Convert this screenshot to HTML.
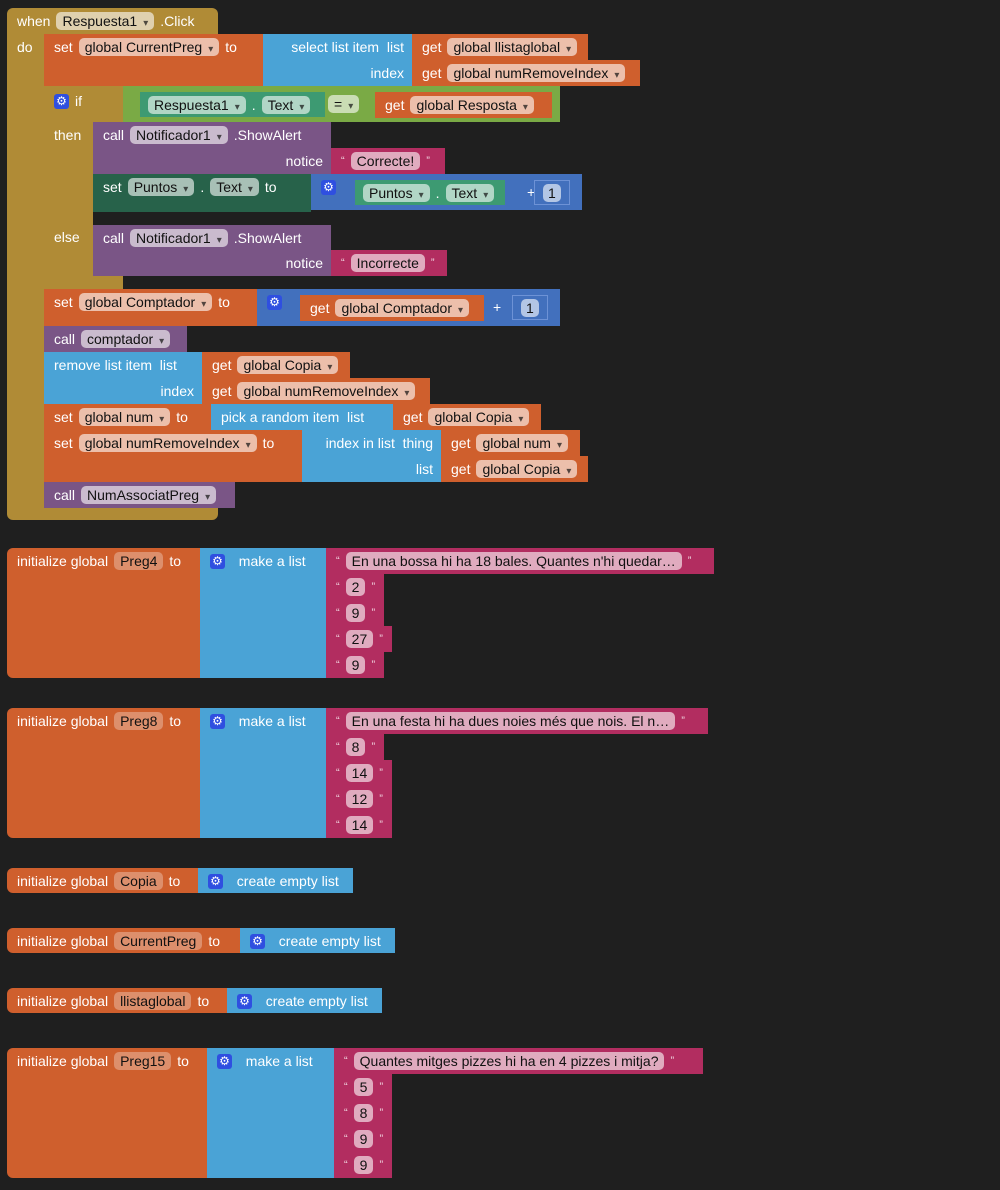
<!DOCTYPE html>
<html><head><meta charset="utf-8"><style>
body{margin:0;background:#1f1f1f;width:1000px;height:1190px;position:relative;overflow:hidden;font-family:"Liberation Sans",sans-serif;font-size:14px;color:#fff}
.b{position:absolute;box-sizing:border-box}
.r{position:absolute;left:0;right:0;height:26px;display:flex;align-items:center;gap:6px;padding-left:10px;white-space:nowrap}
.re{justify-content:flex-end;padding-right:8px;padding-left:0}
.p{background:rgba(255,255,255,.6);color:#111;border-radius:5px;padding:0 6px;height:18px;line-height:18px;display:inline-block}
.p i{font-style:normal;font-size:10px;margin-left:6px;opacity:.7}
.g{display:inline-block;width:15px;height:15px;background:#2f4fe0;border-radius:3px;color:#fff;font-size:12px;line-height:15px;text-align:center}
.q{font-size:11px;opacity:.8}
.gold{background:#b08b36}.or{background:#cf5f2d}.bl{background:#4aa3d6}.pu{background:#7a5586}.mg{background:#b22d60}
.gr{background:#7aaa45}.te{background:#3d9a72}.dg{background:#27624a}.mb{background:#4270bd}
.rd{border-radius:6px 6px 6px 6px}
</style></head><body>

<!-- event block -->
<div class="b gold" style="left:7px;top:8px;width:211px;height:512px;border-radius:6px">
 <div class="r" style="top:0">when <span class="p">Respuesta1<i>▾</i></span> .Click</div>
 <div class="r" style="top:26px">do</div>
</div>
<div class="b" style="left:44px;top:34px;width:174px;height:474px;background:#1f1f1f"></div>

<!-- set CurrentPreg -->
<div class="b or" style="left:44px;top:34px;width:219px;height:52px">
 <div class="r" style="top:0">set <span class="p">global CurrentPreg<i>▾</i></span> to</div></div>
<div class="b bl" style="left:263px;top:34px;width:149px;height:52px">
 <div class="r re" style="top:0">select list item &nbsp;list</div><div class="r re" style="top:26px">index</div></div>
<div class="b or" style="left:412px;top:34px;width:176px;height:26px">
 <div class="r" style="top:0">get <span class="p">global llistaglobal<i>▾</i></span></div></div>
<div class="b or" style="left:412px;top:60px;width:228px;height:26px">
 <div class="r" style="top:0">get <span class="p">global numRemoveIndex<i>▾</i></span></div></div>

<!-- if block -->
<div class="b gold" style="left:44px;top:86px;width:79px;height:204px">
 <div class="r" style="top:2px"><span class="g">⚙</span> if</div>
 <div class="r" style="top:36px">then</div>
 <div class="r" style="top:138px">else</div>
</div>
<div class="b" style="left:93px;top:122px;width:30px;height:154px;background:#1f1f1f"></div>
<div class="b gr" style="left:123px;top:86px;width:437px;height:36px"></div>
<div class="b te" style="left:140px;top:92px;width:185px;height:25px">
 <div class="r" style="top:0;padding-left:8px"><span class="p">Respuesta1<i>▾</i></span>.<span class="p">Text<i>▾</i></span></div></div>
<span class="b p" style="left:328px;top:95px">=<i>▾</i></span>
<div class="b or" style="left:375px;top:92px;width:177px;height:26px">
 <div class="r" style="top:0">get <span class="p">global Resposta<i>▾</i></span></div></div>

<div class="b pu" style="left:93px;top:122px;width:238px;height:52px">
 <div class="r" style="top:0">call <span class="p">Notificador1<i>▾</i></span> .ShowAlert</div><div class="r re" style="top:26px">notice</div></div>
<div class="b mg" style="left:331px;top:148px;width:114px;height:26px">
 <div class="r" style="top:0"><span class="q">“</span><span class="p">Correcte!</span><span class="q">”</span></div></div>
<div class="b dg" style="left:93px;top:174px;width:218px;height:38px">
 <div class="r" style="top:0">set <span class="p">Puntos<i>▾</i></span>.<span class="p">Text<i>▾</i></span> to</div></div>
<div class="b mb" style="left:311px;top:174px;width:271px;height:36px">
 <div class="r" style="top:0"><span class="g">⚙</span></div>
 <div class="r" style="top:5px;left:206px">+</div></div>
<div class="b te" style="left:355px;top:180px;width:150px;height:25px">
 <div class="r" style="top:0;padding-left:8px"><span class="p">Puntos<i>▾</i></span>.<span class="p">Text<i>▾</i></span></div></div>
<div class="b mb" style="left:534px;top:180px;width:36px;height:25px;border:1px solid #6d92d6">
 <span class="p" style="position:absolute;left:8px;top:3px;padding:0 5px">1</span></div>

<div class="b pu" style="left:93px;top:225px;width:238px;height:51px">
 <div class="r" style="top:0">call <span class="p">Notificador1<i>▾</i></span> .ShowAlert</div><div class="r re" style="top:25px">notice</div></div>
<div class="b mg" style="left:331px;top:250px;width:116px;height:26px">
 <div class="r" style="top:0"><span class="q">“</span><span class="p">Incorrecte</span><span class="q">”</span></div></div>

<!-- set Comptador -->
<div class="b or" style="left:44px;top:289px;width:213px;height:37px">
 <div class="r" style="top:0">set <span class="p">global Comptador<i>▾</i></span> to</div></div>
<div class="b mb" style="left:257px;top:289px;width:303px;height:37px">
 <div class="r" style="top:0"><span class="g">⚙</span></div><div class="r" style="top:5px;left:226px">+</div></div>
<div class="b or" style="left:300px;top:295px;width:184px;height:26px">
 <div class="r" style="top:0">get <span class="p">global Comptador<i>▾</i></span></div></div>
<div class="b mb" style="left:512px;top:295px;width:36px;height:25px;border:1px solid #6d92d6">
 <span class="p" style="position:absolute;left:8px;top:3px;padding:0 5px">1</span></div>

<div class="b pu" style="left:44px;top:326px;width:143px;height:26px">
 <div class="r" style="top:0">call <span class="p">comptador<i>▾</i></span></div></div>
<div class="b bl" style="left:44px;top:352px;width:158px;height:52px">
 <div class="r" style="top:0">remove list item &nbsp;list</div><div class="r re" style="top:26px">index</div></div>
<div class="b or" style="left:202px;top:352px;width:148px;height:26px">
 <div class="r" style="top:0">get <span class="p">global Copia<i>▾</i></span></div></div>
<div class="b or" style="left:202px;top:378px;width:228px;height:26px">
 <div class="r" style="top:0">get <span class="p">global numRemoveIndex<i>▾</i></span></div></div>

<div class="b or" style="left:44px;top:404px;width:167px;height:26px">
 <div class="r" style="top:0">set <span class="p">global num<i>▾</i></span> to</div></div>
<div class="b bl" style="left:211px;top:404px;width:182px;height:26px">
 <div class="r" style="top:0">pick a random item &nbsp;list</div></div>
<div class="b or" style="left:393px;top:404px;width:148px;height:26px">
 <div class="r" style="top:0">get <span class="p">global Copia<i>▾</i></span></div></div>

<div class="b or" style="left:44px;top:430px;width:258px;height:52px">
 <div class="r" style="top:0">set <span class="p">global numRemoveIndex<i>▾</i></span> to</div></div>
<div class="b bl" style="left:302px;top:430px;width:139px;height:52px">
 <div class="r re" style="top:0">index in list &nbsp;thing</div><div class="r re" style="top:26px">list</div></div>
<div class="b or" style="left:441px;top:430px;width:139px;height:26px">
 <div class="r" style="top:0">get <span class="p">global num<i>▾</i></span></div></div>
<div class="b or" style="left:441px;top:456px;width:147px;height:26px">
 <div class="r" style="top:0">get <span class="p">global Copia<i>▾</i></span></div></div>
<div class="b pu" style="left:44px;top:482px;width:191px;height:26px">
 <div class="r" style="top:0">call <span class="p">NumAssociatPreg<i>▾</i></span></div></div>

<!-- Preg4 -->
<div class="b or" style="left:7px;top:548px;width:193px;height:130px;border-radius:6px 0 0 6px">
 <div class="r" style="top:0">initialize global <span class="p" style="background:rgba(255,255,255,.3)">Preg4</span> to</div></div>
<div class="b bl" style="left:200px;top:548px;width:126px;height:130px">
 <div class="r" style="top:0"><span class="g">⚙</span>&nbsp; make a list</div></div>
<div class="b mg" style="left:326px;top:548px;width:388px;height:26px"><div class="r" style="top:0"><span class="q">“</span><span class="p">En una bossa hi ha 18 bales. Quantes n'hi quedar…</span><span class="q">”</span></div></div>
<div class="b mg" style="left:326px;top:574px;width:58px;height:26px"><div class="r" style="top:0"><span class="q">“</span><span class="p">2</span><span class="q">”</span></div></div>
<div class="b mg" style="left:326px;top:600px;width:58px;height:26px"><div class="r" style="top:0"><span class="q">“</span><span class="p">9</span><span class="q">”</span></div></div>
<div class="b mg" style="left:326px;top:626px;width:66px;height:26px"><div class="r" style="top:0"><span class="q">“</span><span class="p">27</span><span class="q">”</span></div></div>
<div class="b mg" style="left:326px;top:652px;width:58px;height:26px"><div class="r" style="top:0"><span class="q">“</span><span class="p">9</span><span class="q">”</span></div></div>

<!-- Preg8 -->
<div class="b or" style="left:7px;top:708px;width:193px;height:130px;border-radius:6px 0 0 6px">
 <div class="r" style="top:0">initialize global <span class="p" style="background:rgba(255,255,255,.3)">Preg8</span> to</div></div>
<div class="b bl" style="left:200px;top:708px;width:126px;height:130px">
 <div class="r" style="top:0"><span class="g">⚙</span>&nbsp; make a list</div></div>
<div class="b mg" style="left:326px;top:708px;width:382px;height:26px"><div class="r" style="top:0"><span class="q">“</span><span class="p">En una festa hi ha dues noies més que nois. El n…</span><span class="q">”</span></div></div>
<div class="b mg" style="left:326px;top:734px;width:58px;height:26px"><div class="r" style="top:0"><span class="q">“</span><span class="p">8</span><span class="q">”</span></div></div>
<div class="b mg" style="left:326px;top:760px;width:66px;height:26px"><div class="r" style="top:0"><span class="q">“</span><span class="p">14</span><span class="q">”</span></div></div>
<div class="b mg" style="left:326px;top:786px;width:66px;height:26px"><div class="r" style="top:0"><span class="q">“</span><span class="p">12</span><span class="q">”</span></div></div>
<div class="b mg" style="left:326px;top:812px;width:66px;height:26px"><div class="r" style="top:0"><span class="q">“</span><span class="p">14</span><span class="q">”</span></div></div>

<!-- simple inits -->
<div class="b or" style="left:7px;top:868px;width:191px;height:25px;border-radius:6px 0 0 6px">
 <div class="r" style="top:0">initialize global <span class="p" style="background:rgba(255,255,255,.3)">Copia</span> to</div></div>
<div class="b bl" style="left:198px;top:868px;width:155px;height:25px">
 <div class="r" style="top:0"><span class="g">⚙</span>&nbsp; create empty list</div></div>
<div class="b or" style="left:7px;top:928px;width:233px;height:25px;border-radius:6px 0 0 6px">
 <div class="r" style="top:0">initialize global <span class="p" style="background:rgba(255,255,255,.3)">CurrentPreg</span> to</div></div>
<div class="b bl" style="left:240px;top:928px;width:155px;height:25px">
 <div class="r" style="top:0"><span class="g">⚙</span>&nbsp; create empty list</div></div>
<div class="b or" style="left:7px;top:988px;width:220px;height:25px;border-radius:6px 0 0 6px">
 <div class="r" style="top:0">initialize global <span class="p" style="background:rgba(255,255,255,.3)">llistaglobal</span> to</div></div>
<div class="b bl" style="left:227px;top:988px;width:155px;height:25px">
 <div class="r" style="top:0"><span class="g">⚙</span>&nbsp; create empty list</div></div>

<!-- Preg15 -->
<div class="b or" style="left:7px;top:1048px;width:200px;height:130px;border-radius:6px 0 0 6px">
 <div class="r" style="top:0">initialize global <span class="p" style="background:rgba(255,255,255,.3)">Preg15</span> to</div></div>
<div class="b bl" style="left:207px;top:1048px;width:127px;height:130px">
 <div class="r" style="top:0"><span class="g">⚙</span>&nbsp; make a list</div></div>
<div class="b mg" style="left:334px;top:1048px;width:369px;height:26px"><div class="r" style="top:0"><span class="q">“</span><span class="p">Quantes mitges pizzes hi ha en 4 pizzes i mitja?</span><span class="q">”</span></div></div>
<div class="b mg" style="left:334px;top:1074px;width:58px;height:26px"><div class="r" style="top:0"><span class="q">“</span><span class="p">5</span><span class="q">”</span></div></div>
<div class="b mg" style="left:334px;top:1100px;width:58px;height:26px"><div class="r" style="top:0"><span class="q">“</span><span class="p">8</span><span class="q">”</span></div></div>
<div class="b mg" style="left:334px;top:1126px;width:58px;height:26px"><div class="r" style="top:0"><span class="q">“</span><span class="p">9</span><span class="q">”</span></div></div>
<div class="b mg" style="left:334px;top:1152px;width:58px;height:26px"><div class="r" style="top:0"><span class="q">“</span><span class="p">9</span><span class="q">”</span></div></div>

</body></html>
